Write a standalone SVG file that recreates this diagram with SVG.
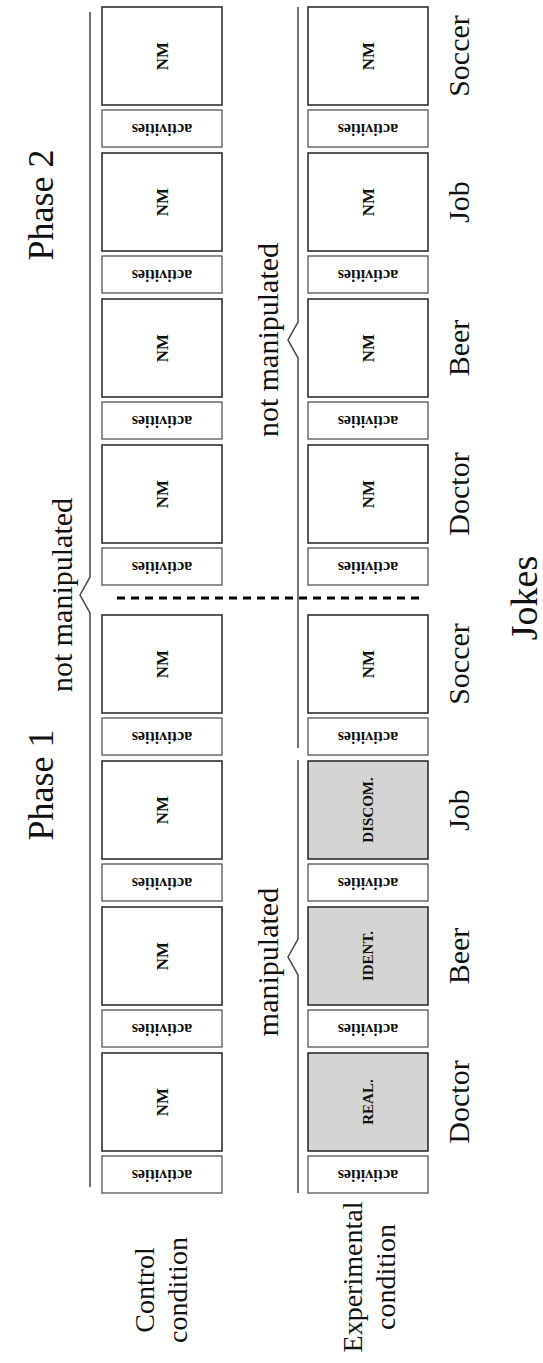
<svg xmlns="http://www.w3.org/2000/svg" width="543" height="1363" viewBox="0 0 543 1363">
<style>
.nm{fill:#fff;stroke:#222;stroke-width:1.5}
.man{fill:#d4d4d4;stroke:#222;stroke-width:1.5}
.act{fill:#fff;stroke:#555;stroke-width:1.3}
.bt{font-family:"Liberation Serif",serif;font-weight:bold;font-size:17px;text-anchor:middle;fill:#111}
.mt{font-family:"Liberation Serif",serif;font-weight:bold;font-size:15px;text-anchor:middle;fill:#111}
.at{font-family:"Liberation Serif",serif;font-weight:bold;font-size:16px;text-anchor:middle;fill:#111}
.lb{font-family:"Liberation Serif",serif;font-size:30px;text-anchor:middle;fill:#111}
.ph{font-family:"Liberation Serif",serif;font-size:36px;text-anchor:middle;fill:#111}
.rl{font-family:"Liberation Serif",serif;font-size:28px;text-anchor:middle;fill:#111}
.br{fill:none;stroke:#444;stroke-width:1.5}
</style>
<rect width="543" height="1363" fill="#fff"/>
<g id="connectors">
<path class="br" d="M90,12 L90,577 L80,595 L90,613 L90,1187"/>
<path class="br" d="M298,7 L298,322 L288,340 L298,358 L298,748"/>
<path class="br" d="M298,760 L298,939 L288,957 L298,975 L298,1193"/>
<path d="M117,598 L425,598" stroke="#000" stroke-width="3" stroke-dasharray="8 6" fill="none"/>
</g>
<g id="labels">
<text class="ph" transform="translate(53,205) rotate(-90)">Phase 2</text>
<text class="ph" transform="translate(53,785) rotate(-90)">Phase 1</text>
<text class="lb" transform="translate(72,595) rotate(-90)">not manipulated</text>
<text class="lb" transform="translate(278,340) rotate(-90)">not manipulated</text>
<text class="lb" transform="translate(278,962) rotate(-90)">manipulated</text>
<text class="lb" transform="translate(469,56) rotate(-90)">Soccer</text>
<text class="lb" transform="translate(469,202) rotate(-90)">Job</text>
<text class="lb" transform="translate(469,348) rotate(-90)">Beer</text>
<text class="lb" transform="translate(469,494) rotate(-90)">Doctor</text>
<text class="lb" transform="translate(469,664) rotate(-90)">Soccer</text>
<text class="lb" transform="translate(469,810) rotate(-90)">Job</text>
<text class="lb" transform="translate(469,956) rotate(-90)">Beer</text>
<text class="lb" transform="translate(469,1102) rotate(-90)">Doctor</text>
<text class="ph" style="font-size:38px" transform="translate(537,598) rotate(-90)">Jokes</text>
<text class="rl" transform="translate(154,1290) rotate(-90)">Control</text>
<text class="rl" transform="translate(187,1290) rotate(-90)">condition</text>
<text class="rl" transform="translate(362,1277) rotate(-90)">Experimental</text>
<text class="rl" transform="translate(395,1277) rotate(-90)">condition</text>
</g>
<g id="control">
<g id="c-nm-soccer2"><rect class="nm" x="102" y="7" width="120" height="98"/><text class="bt" transform="translate(162,56) rotate(-90)" y="6">NM</text></g>
<g id="c-act-soccer2"><rect class="act" x="102" y="110" width="120" height="37"/><text class="at" transform="translate(162,128.5) rotate(180)" y="5">activities</text></g>
<g id="c-nm-job2"><rect class="nm" x="102" y="153" width="120" height="98"/><text class="bt" transform="translate(162,202) rotate(-90)" y="6">NM</text></g>
<g id="c-act-job2"><rect class="act" x="102" y="256" width="120" height="37"/><text class="at" transform="translate(162,274.5) rotate(180)" y="5">activities</text></g>
<g id="c-nm-beer2"><rect class="nm" x="102" y="299" width="120" height="98"/><text class="bt" transform="translate(162,348) rotate(-90)" y="6">NM</text></g>
<g id="c-act-beer2"><rect class="act" x="102" y="402" width="120" height="37"/><text class="at" transform="translate(162,420.5) rotate(180)" y="5">activities</text></g>
<g id="c-nm-doctor2"><rect class="nm" x="102" y="445" width="120" height="98"/><text class="bt" transform="translate(162,494) rotate(-90)" y="6">NM</text></g>
<g id="c-act-doctor2"><rect class="act" x="102" y="548" width="120" height="37"/><text class="at" transform="translate(162,566.5) rotate(180)" y="5">activities</text></g>
<g id="c-nm-soccer1"><rect class="nm" x="102" y="615" width="120" height="98"/><text class="bt" transform="translate(162,664) rotate(-90)" y="6">NM</text></g>
<g id="c-act-soccer1"><rect class="act" x="102" y="718" width="120" height="37"/><text class="at" transform="translate(162,736.5) rotate(180)" y="5">activities</text></g>
<g id="c-nm-job1"><rect class="nm" x="102" y="761" width="120" height="98"/><text class="bt" transform="translate(162,810) rotate(-90)" y="6">NM</text></g>
<g id="c-act-job1"><rect class="act" x="102" y="864" width="120" height="37"/><text class="at" transform="translate(162,882.5) rotate(180)" y="5">activities</text></g>
<g id="c-nm-beer1"><rect class="nm" x="102" y="907" width="120" height="98"/><text class="bt" transform="translate(162,956) rotate(-90)" y="6">NM</text></g>
<g id="c-act-beer1"><rect class="act" x="102" y="1010" width="120" height="37"/><text class="at" transform="translate(162,1028.5) rotate(180)" y="5">activities</text></g>
<g id="c-nm-doctor1"><rect class="nm" x="102" y="1053" width="120" height="98"/><text class="bt" transform="translate(162,1102) rotate(-90)" y="6">NM</text></g>
<g id="c-act-doctor1"><rect class="act" x="102" y="1156" width="120" height="37"/><text class="at" transform="translate(162,1174.5) rotate(180)" y="5">activities</text></g>
</g>
<g id="experimental">
<g id="e-nm-soccer2"><rect class="nm" x="308" y="7" width="120" height="98"/><text class="bt" transform="translate(368,56) rotate(-90)" y="6">NM</text></g>
<g id="e-act-soccer2"><rect class="act" x="308" y="110" width="120" height="37"/><text class="at" transform="translate(368,128.5) rotate(180)" y="5">activities</text></g>
<g id="e-nm-job2"><rect class="nm" x="308" y="153" width="120" height="98"/><text class="bt" transform="translate(368,202) rotate(-90)" y="6">NM</text></g>
<g id="e-act-job2"><rect class="act" x="308" y="256" width="120" height="37"/><text class="at" transform="translate(368,274.5) rotate(180)" y="5">activities</text></g>
<g id="e-nm-beer2"><rect class="nm" x="308" y="299" width="120" height="98"/><text class="bt" transform="translate(368,348) rotate(-90)" y="6">NM</text></g>
<g id="e-act-beer2"><rect class="act" x="308" y="402" width="120" height="37"/><text class="at" transform="translate(368,420.5) rotate(180)" y="5">activities</text></g>
<g id="e-nm-doctor2"><rect class="nm" x="308" y="445" width="120" height="98"/><text class="bt" transform="translate(368,494) rotate(-90)" y="6">NM</text></g>
<g id="e-act-doctor2"><rect class="act" x="308" y="548" width="120" height="37"/><text class="at" transform="translate(368,566.5) rotate(180)" y="5">activities</text></g>
<g id="e-nm-soccer1"><rect class="nm" x="308" y="615" width="120" height="98"/><text class="bt" transform="translate(368,664) rotate(-90)" y="6">NM</text></g>
<g id="e-act-soccer1"><rect class="act" x="308" y="718" width="120" height="37"/><text class="at" transform="translate(368,736.5) rotate(180)" y="5">activities</text></g>
<g id="e-discom-job1"><rect class="man" x="308" y="761" width="120" height="98"/><text class="mt" transform="translate(368,810) rotate(-90)" y="5">DISCOM.</text></g>
<g id="e-act-job1"><rect class="act" x="308" y="864" width="120" height="37"/><text class="at" transform="translate(368,882.5) rotate(180)" y="5">activities</text></g>
<g id="e-ident-beer1"><rect class="man" x="308" y="907" width="120" height="98"/><text class="mt" transform="translate(368,956) rotate(-90)" y="5">IDENT.</text></g>
<g id="e-act-beer1"><rect class="act" x="308" y="1010" width="120" height="37"/><text class="at" transform="translate(368,1028.5) rotate(180)" y="5">activities</text></g>
<g id="e-real-doctor1"><rect class="man" x="308" y="1053" width="120" height="98"/><text class="mt" transform="translate(368,1102) rotate(-90)" y="5">REAL.</text></g>
<g id="e-act-doctor1"><rect class="act" x="308" y="1156" width="120" height="37"/><text class="at" transform="translate(368,1174.5) rotate(180)" y="5">activities</text></g>
</g>
</svg>
